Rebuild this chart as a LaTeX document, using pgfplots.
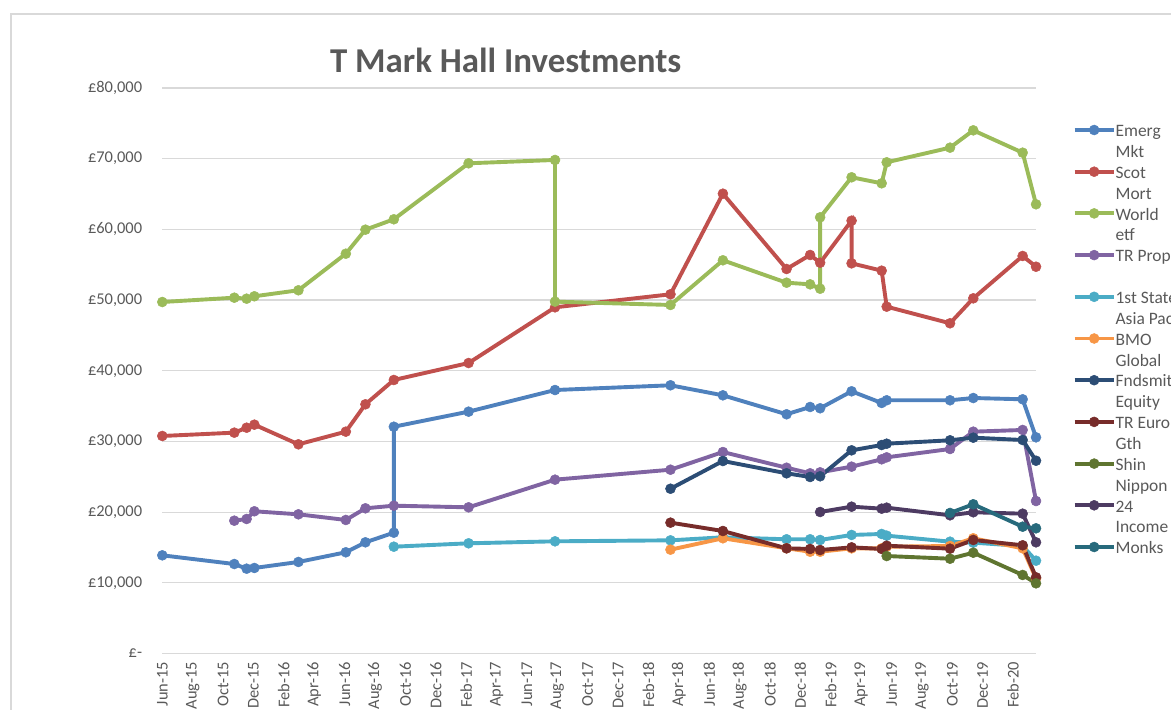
\documentclass[border=0pt]{standalone}
\usepackage{fontspec}
\setmainfont{Carlito}
\usepackage{pgfplots}
\pgfplotsset{compat=1.18}
\definecolor{c1}{HTML}{4F81BD}
\definecolor{c2}{HTML}{C0504D}
\definecolor{c3}{HTML}{9BBB59}
\definecolor{c4}{HTML}{8064A2}
\definecolor{c5}{HTML}{4BACC6}
\definecolor{c6}{HTML}{F79646}
\definecolor{c7}{HTML}{2C4D75}
\definecolor{c8}{HTML}{772C2A}
\definecolor{c9}{HTML}{5F7530}
\definecolor{c10}{HTML}{4D3B62}
\definecolor{c11}{HTML}{276A7C}
\definecolor{gridc}{HTML}{D9D9D9}
\definecolor{txt}{HTML}{595959}
\begin{document}
\begin{tikzpicture}[x=1bp,y=1bp]
\draw[gridc, line width=1.2bp] (11,-10) -- (11,696) -- (1200,696);
\begin{axis}[
  at={(162.3bp,56.4bp)}, anchor=south west, scale only axis,
  width=873.7bp, height=565.6bp,
  xmin=0, xmax=57.51, ymin=0, ymax=80000,
  clip=false,
  axis line style={draw=none},
  ymajorgrids, grid style={gridc, line width=1.2bp},
  major tick length=0pt,
  ytick={0,10000,20000,30000,40000,50000,60000,70000,80000},
  yticklabels={{£-},{£10,000},{£20,000},{£30,000},{£40,000},{£50,000},{£60,000},{£70,000},{£80,000}},
  xtick={0,2,...,56},
  xticklabels={Jun-15,Aug-15,Oct-15,Dec-15,Feb-16,Apr-16,Jun-16,Aug-16,Oct-16,Dec-16,Feb-17,Apr-17,Jun-17,Aug-17,Oct-17,Dec-17,Feb-18,Apr-18,Jun-18,Aug-18,Oct-18,Dec-18,Feb-19,Apr-19,Jun-19,Aug-19,Oct-19,Dec-19,Feb-20},
  scaled y ticks=false,
  tick label style={font=\fontsize{16.5}{19}\selectfont, text=txt},
  yticklabel style={anchor=east, inner sep=0pt, xshift=-20bp},
  xticklabel style={yshift=-8bp, rotate=90, anchor=east, inner sep=0pt},
  title={T Mark Hall Investments},
  title style={at={(0.393,1.0165)}, anchor=base, font=\fontsize{35}{42}\selectfont\bfseries, text=txt},
  legend style={at={(1.042,0.9397)}, anchor=north west, draw=none, fill=none,
    inner sep=0pt, outer sep=0pt, row sep=0pt, column sep=0bp,
    font=\fontsize{17.5}{20.85}\selectfont, text=txt,
    cells={anchor=base west}, nodes={inner sep=0pt, text height=14.6bp, text depth=6.25bp}},
  legend image code/.code={\draw[mark repeat=2, mark phase=2, #1] plot coordinates {(0bp,6.7bp) (19.5bp,6.7bp) (39bp,6.7bp)};},
  every axis plot/.append style={line width=3.9bp, mark=*, mark size=5bp},
]
\addplot[c1, mark options={fill=c1, draw=c1, line width=0.5bp}] coordinates {
(0,13900) (4.74,12670) (5.55,12010) (6.06,12110) (8.96,12960) (12.08,14330) (13.37,15740) (15.24,17100) (15.24,32090) (20.16,34220) (25.85,37280) (33.45,37950) (36.9,36530) (41.09,33850) (42.64,34880) (43.30,34700) (45.37,37100) (47.35,35450) (47.68,35830) (51.85,35830) (53.38,36150) (56.63,35970) (57.51,30590)};
\addlegendentry{Emerg}
\addlegendimage{empty legend}\addlegendentry{Mkt}
\addplot[c2, mark options={fill=c2, draw=c2, line width=0.5bp}] coordinates {
(0,30780) (4.74,31250) (5.55,31950) (6.06,32380) (8.96,29600) (12.08,31390) (13.37,35260) (15.24,38700) (20.16,41100) (25.85,48980) (33.45,50820) (36.9,65050) (41.09,54400) (42.64,56380) (43.30,55290) (45.37,61230) (45.37,55200) (47.35,54160) (47.68,49070) (51.85,46720) (53.38,50250) (56.63,56240) (57.51,54720)};
\addlegendentry{Scot}
\addlegendimage{empty legend}\addlegendentry{Mort}
\addplot[c3, mark options={fill=c3, draw=c3, line width=0.5bp}] coordinates {
(0,49730) (4.74,50340) (5.55,50200) (6.06,50540) (8.96,51390) (12.08,56560) (13.37,59960) (15.24,61430) (20.16,69350) (25.85,69820) (25.85,49780) (33.45,49310) (36.9,55630) (41.09,52460) (42.64,52230) (43.30,51610) (43.30,61710) (45.37,67370) (47.35,66520) (47.68,69490) (51.85,71560) (53.38,74010) (56.63,70850) (57.51,63550)};
\addlegendentry{World}
\addlegendimage{empty legend}\addlegendentry{etf}
\addplot[c4, mark options={fill=c4, draw=c4, line width=0.5bp}] coordinates {
(4.74,18800) (5.55,19040) (6.06,20130) (8.96,19700) (12.08,18900) (13.37,20550) (15.24,20920) (20.16,20690) (25.85,24600) (33.45,26010) (36.9,28510) (41.09,26290) (42.64,25500) (43.30,25640) (45.37,26440) (47.35,27480) (47.68,27760) (51.85,28940) (53.38,31390) (56.63,31630) (57.51,21580)};
\addlegendentry{TR Prop}
\addlegendimage{empty legend}\addlegendentry{}
\addplot[c5, mark options={fill=c5, draw=c5, line width=0.5bp}] coordinates {
(15.24,15120) (20.16,15600) (25.85,15880) (33.45,16020) (36.9,16450) (41.09,16170) (42.64,16170) (43.30,16070) (45.37,16780) (47.35,16920) (47.68,16680) (51.85,15830) (53.38,15690) (56.63,15220) (57.51,13140)};
\addlegendentry{1st State}
\addlegendimage{empty legend}\addlegendentry{Asia Pac}
\addplot[c6, mark options={fill=c6, draw=c6, line width=0.5bp}] coordinates {
(33.45,14700) (36.9,16310) (41.09,14900) (42.64,14410) (43.30,14410) (45.37,14890) (47.35,14890) (47.68,15120) (51.85,15220) (53.38,16310) (56.63,14890) (57.51,10650)};
\addlegendentry{BMO}
\addlegendimage{empty legend}\addlegendentry{Global}
\addplot[c7, mark options={fill=c7, draw=c7, line width=0.5bp}] coordinates {
(33.45,23320) (36.9,27240) (41.09,25500) (42.64,24980) (43.30,25080) (45.37,28750) (47.35,29500) (47.68,29690) (51.85,30170) (53.38,30540) (56.63,30210) (57.51,27280)};
\addlegendentry{Fndsmith}
\addlegendimage{empty legend}\addlegendentry{Equity}
\addplot[c8, mark options={fill=c8, draw=c8, line width=0.5bp}] coordinates {
(33.45,18520) (36.9,17340) (41.09,14890) (42.64,14800) (43.30,14650) (45.37,15030) (47.35,14800) (47.68,15260) (51.85,14840) (53.38,16070) (56.63,15320) (57.51,10790)};
\addlegendentry{TR Euro}
\addlegendimage{empty legend}\addlegendentry{Gth}
\addplot[c9, mark options={fill=c9, draw=c9, line width=0.5bp}] coordinates {
(47.68,13800) (51.85,13420) (53.38,14270) (56.63,11120) (57.51,9940)};
\addlegendentry{Shin}
\addlegendimage{empty legend}\addlegendentry{Nippon}
\addplot[c10, mark options={fill=c10, draw=c10, line width=0.5bp}] coordinates {
(43.30,20030) (45.37,20780) (47.35,20500) (47.68,20640) (51.85,19560) (53.38,19990) (56.63,19790) (57.51,15740)};
\addlegendentry{24}
\addlegendimage{empty legend}\addlegendentry{Income}
\addplot[c11, mark options={fill=c11, draw=c11, line width=0.5bp}] coordinates {
(51.85,19890) (53.38,21120) (56.63,17950) (57.51,17720)};
\addlegendentry{Monks}
\end{axis}
\pgfresetboundingbox
\path[use as bounding box] (0,0) rectangle (1171,710);
\end{tikzpicture}
\end{document}
